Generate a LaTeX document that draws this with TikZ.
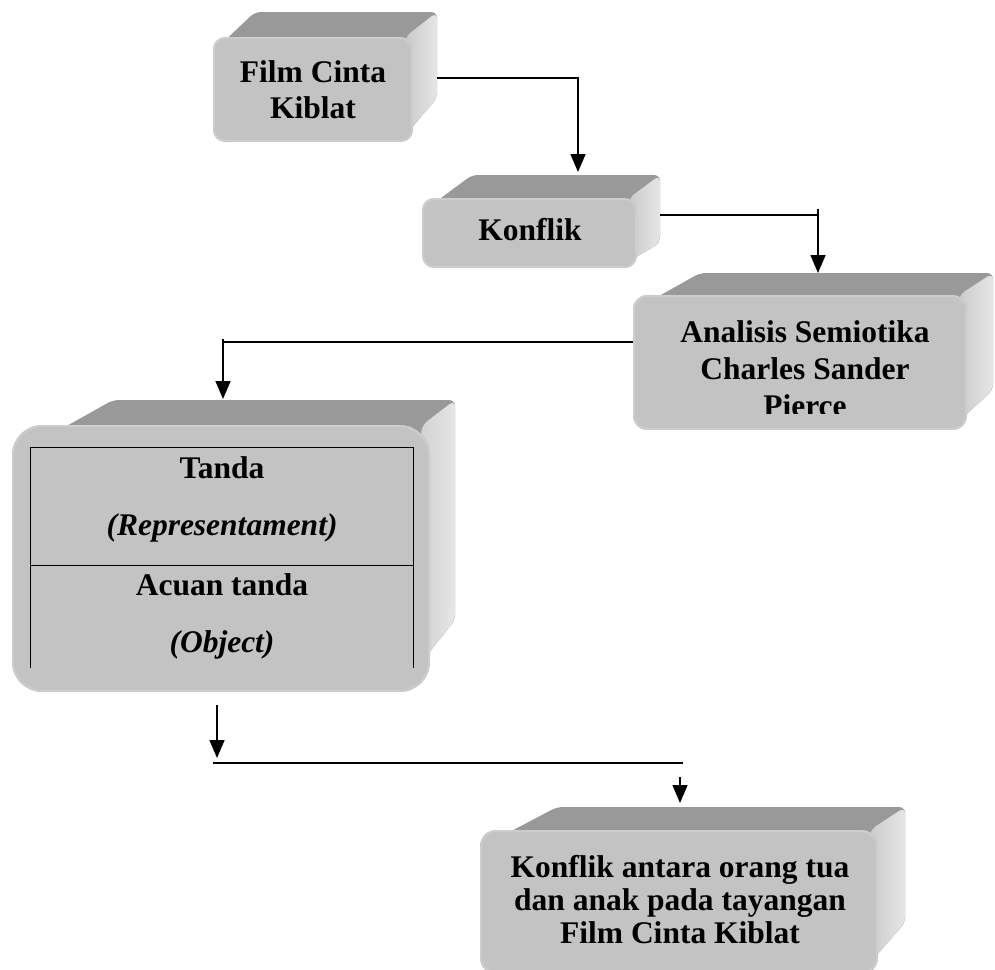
\documentclass[tikz,border=0pt]{standalone}
\usepackage{fontspec}
\setmainfont{Liberation Serif}
\usetikzlibrary{arrows.meta}
\definecolor{topc}{HTML}{999999}
\definecolor{frontc}{HTML}{C3C3C3}
\definecolor{rimc}{HTML}{CDCDCD}
\definecolor{sidea}{HTML}{C6C6C6}
\definecolor{sideb}{HTML}{E6E6E6}
% #1 x1, #2 y1, #3 x2, #4 y2 (front face), #5 back-left x, #6 back-top y, #7 back-right x, #8 side-bottom y, #9 radius
\newcommand{\bevbox}[9]{%
  \fill[topc, rounded corners=6pt] ({#1+3},{#2+#9}) -- (#5,#6) -- (#7,#6) -- (#7,#8) -- ({#3-0.6*#9},{#4-0.6*#9}) -- ({#1+#9},{#4-#9}) -- cycle;
  \shade[left color=sidea, right color=sideb, rounded corners=7pt] ({#3-8},{#2}) -- (#7,#6) -- (#7,#8) -- ({#3-0.6*#9},{#4-0.6*#9}) -- ({#3-#9},{#4-#9}) -- cycle;
  \fill[frontc, rounded corners=#9pt] (#1,#2) rectangle (#3,#4);
  \draw[rimc, line width=1.6pt, rounded corners=#9pt] ({#1+1},{#2+1}) rectangle ({#3-1},{#4-1});
}
\tikzset{
  lbl/.style={font=\bfseries\fontsize{31.5}{36}\selectfont, inner sep=0pt, anchor=base},
  lbli/.style={font=\bfseries\itshape\fontsize{31.5}{36}\selectfont, inner sep=0pt, anchor=base},
  arr/.style={line width=1.6pt, -{Triangle[width=15pt,length=18pt]}},
  plainline/.style={line width=1.6pt},
  tabline/.style={line width=0.9pt}
}
\begin{document}
\begin{tikzpicture}[x=1pt,y=-1pt]
\useasboundingbox (0,0) rectangle (995,969);
\fill[white] (0,0) rectangle (995,969);

% boxes
\bevbox{213}{37}{413}{142}{255}{12}{437}{98}{12}
\bevbox{422}{198}{637}{268}{472}{175}{660}{243}{12}
\bevbox{633}{295}{967}{430}{700}{273}{993}{390}{14}
\bevbox{12}{425}{430}{692}{113}{400}{455}{620}{30}
\bevbox{480}{830}{878}{974}{557}{807}{905}{923}{16}

% box 1
\node[lbl] (t1a) at (313,82) {Film Cinta};
\node[lbl] (t1b) at (313,118) {Kiblat};
% box 2
\node[lbl] (t2a) at (530,240) {Konflik};
% box 3 (last line cut off)
\begin{scope}
\clip (600,260) rectangle (995,413);
\node[lbl] (t3a) at (805,342) {Analisis Semiotika};
\node[lbl] (t3b) at (805,379) {Charles Sander};
\node[lbl] (t3c) at (805,416) {Pierce};
\end{scope}
% box 4 table
\draw[tabline] (30,668) -- (30,447) -- (413,447) -- (413,668);
\draw[tabline] (30,565) -- (413,565);
\node[lbl] (t4a) at (222,478) {Tanda};
\node[lbli] (t4b) at (222,535) {(Representament)};
\node[lbl] (t4c) at (222,595) {Acuan tanda};
\node[lbli] (t4d) at (222,652) {(Object)};
% box 5
\node[lbl] (t5a) at (680,877) {Konflik antara orang tua};
\node[lbl] (t5b) at (680,910) {dan anak pada tayangan};
\node[lbl] (t5c) at (680,943) {Film Cinta Kiblat};

% connector points
\coordinate (c1s) at (437,78);
\coordinate (c1t) at (578,172);
\coordinate (c2s) at (660,215);
\coordinate (c2k) at (818,215);
\coordinate (c2v) at (818,209);
\coordinate (c2t) at (818,273);
\coordinate (c3s) at (633,342);
\coordinate (c3k) at (223,342);
\coordinate (c3v) at (223,339);
\coordinate (c3t) at (223,399);
\coordinate (c4s) at (217,705);
\coordinate (c4t) at (217,758);
\coordinate (c5a) at (213,763);
\coordinate (c5b) at (683,763);
\coordinate (c6s) at (680,777);
\coordinate (c6t) at (680,803);

\draw[arr] (c1s) -| (c1t);
\draw[plainline] (c2s) -- (c2k);
\draw[arr] (c2v) -- (c2t);
\draw[plainline] (c3s) -- (c3k);
\draw[arr] (c3v) -- (c3t);
\draw[arr] (c4s) -- (c4t);
\draw[plainline] (c5a) -- (c5b);
\draw[arr] (c6s) -- (c6t);
\end{tikzpicture}
\end{document}
